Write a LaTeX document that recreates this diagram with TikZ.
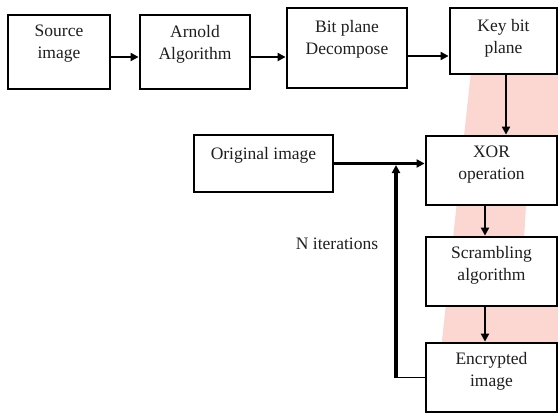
\documentclass[tikz,border=0pt]{standalone}
\usepackage{fontspec}
\setmainfont{Liberation Serif}
\usetikzlibrary{arrows.meta}

\definecolor{wmpink}{RGB}{252,214,208}

\tikzset{
	blk/.style={draw, line width=2.8pt, fill=white, inner sep=0pt},
	txt/.style={align=center, inner sep=0pt, text=black!88, font=\fontsize{17.5}{22}\selectfont},
	arr/.style={line width=2.6pt, -{Triangle[length=8pt,width=8pt]}}
}

\begin{document}
\begin{tikzpicture}[x=1pt, y=-1pt]
		\useasboundingbox (0, 0) rectangle (558, 413);

		% faint background mark
		\fill[wmpink]	(472, 62) -- (560, 62) -- (560, 150) -- (526, 205) -- (524, 240)
						-- (560, 290) -- (560, 415) -- (434, 415) -- cycle;

		% blocks
		\node[blk, minimum width=102pt, minimum height=74pt]	(src) at (59, 52) {};
		\node[blk, minimum width=110pt, minimum height=74pt]	(arnold) at (195, 52) {};
		\node[blk, minimum width=120pt, minimum height=80pt]	(bitp) at (347, 48) {};
		\node[blk, minimum width=107pt, minimum height=66pt]	(key) at (503.5, 41) {};
		\node[blk, minimum width=139pt, minimum height=57pt]	(orig) at (263.5, 163.5) {};
		\node[blk, minimum width=131pt, minimum height=69pt]	(xor) at (491.5, 170.5) {};
		\node[blk, minimum width=131pt, minimum height=69pt]	(scr) at (491.5, 271.5) {};
		\node[blk, minimum width=131pt, minimum height=69pt]	(enc) at (491.5, 377.5) {};

		% block texts
		\node[txt]	(srcT) at ([yshift=8pt]src.center) {Source\\image};
		\node[txt]	(arnoldT) at ([yshift=8pt]arnold.center) {Arnold\\Algorithm};
		\node[txt]	(bitpT) at ([yshift=9pt]bitp.center) {Bit plane\\Decompose};
		\node[txt]	(keyT) at ([yshift=3pt]key.center) {Key bit\\plane};
		\node[txt]	(origT) at ([yshift=8pt]orig.center) {Original image};
		\node[txt]	(xorT) at ([yshift=6pt]xor.center) {XOR\\operation};
		\node[txt]	(scrT) at ([yshift=6pt]scr.center) {Scrambling\\algorithm};
		\node[txt]	(encT) at ([yshift=6pt]enc.center) {Encrypted\\image};
		\node[txt]	(iter) at (337, 244) {N iterations};

		% flow
		\draw[arr]	([yshift=-5pt]src.east) -- ([yshift=-5pt]src.east -| arnold.west);
		\draw[arr]	([yshift=-5pt]arnold.east) -- ([yshift=-5pt]arnold.east -| bitp.west);
		\draw[arr]	([yshift=-8pt]bitp.east) -- ([yshift=-8pt]bitp.east -| key.west);
		\draw[arr]	([xshift=2.5pt]key.south) -- ([xshift=2.5pt]key.south |- xor.north);
		\draw[arr]	(orig.east) -- (orig.east -| xor.west);
		\draw[arr]	([xshift=-6.5pt]xor.south) -- ([xshift=-6.5pt]xor.south |- scr.north);
		\draw[arr]	([xshift=-6.5pt]scr.south) -- ([xshift=-6.5pt]scr.south |- enc.north);

		% feedback loop
		\coordinate (ret) at (396, 0);
		\draw[line width=1.8pt]	(enc.west) -- (enc.west -| ret);
		\draw[arr, line width=3.2pt, shorten >=1.5pt]	([yshift=-0.9pt]enc.west -| ret) -- (orig.east -| ret);
	\end{tikzpicture}
\end{document}
